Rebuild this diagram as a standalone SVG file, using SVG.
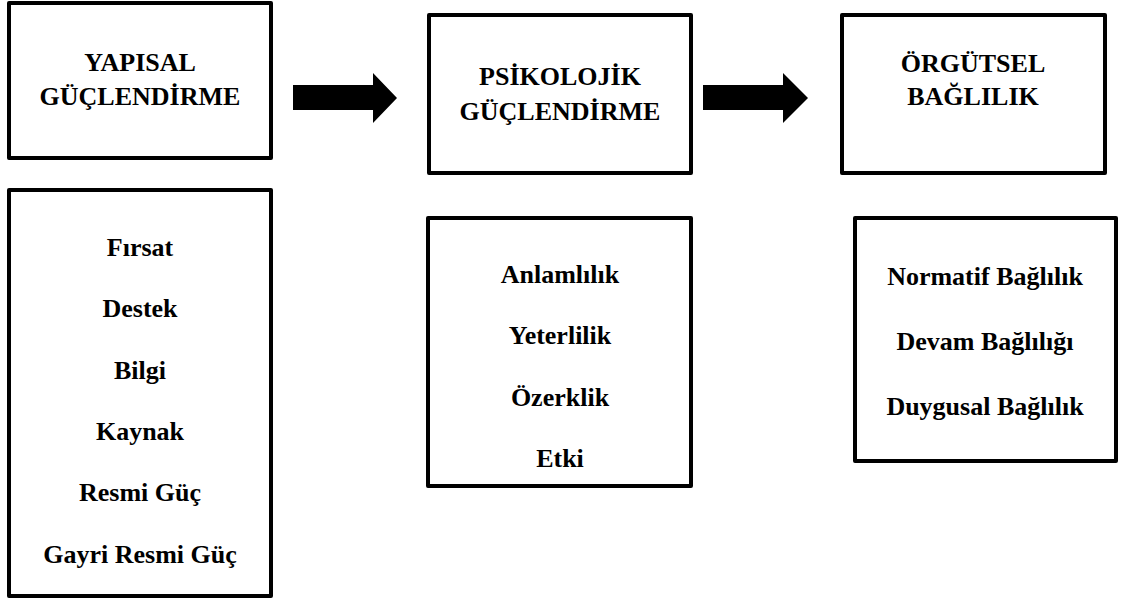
<svg xmlns="http://www.w3.org/2000/svg" width="1126" height="606" viewBox="0 0 1126 606">
<style>
.box{fill:#fff;stroke:#000;stroke-width:4;stroke-linejoin:round}
text{font-family:"Liberation Serif","Times New Roman",serif;font-weight:bold;font-size:26px;fill:#000;text-anchor:middle}
.arrow{fill:#000}
</style>
<rect width="1126" height="606" fill="#fff"/>
<g id="yapisal">
<rect class="box" x="9" y="3" width="262" height="155"/>
<text x="140" y="71">YAPISAL</text>
<text x="140" y="105">GÜÇLENDİRME</text>
</g>
<g id="psikolojik">
<rect class="box" x="429" y="15" width="262" height="158"/>
<text x="560" y="85">PSİKOLOJİK</text>
<text x="560" y="120">GÜÇLENDİRME</text>
</g>
<g id="orgutsel">
<rect class="box" x="842" y="15" width="263" height="158"/>
<text x="973" y="72">ÖRGÜTSEL</text>
<text x="973" y="105">BAĞLILIK</text>
</g>
<g id="yapisal-list">
<rect class="box" x="9" y="190" width="262" height="406"/>
<text x="140" y="256">Fırsat</text>
<text x="140" y="317">Destek</text>
<text x="140" y="379">Bilgi</text>
<text x="140" y="440">Kaynak</text>
<text x="140" y="501">Resmi Güç</text>
<text x="140" y="563">Gayri Resmi Güç</text>
</g>
<g id="psikolojik-list">
<rect class="box" x="428" y="218" width="263" height="268"/>
<text x="560" y="283">Anlamlılık</text>
<text x="560" y="344">Yeterlilik</text>
<text x="560" y="406">Özerklik</text>
<text x="560" y="467">Etki</text>
</g>
<g id="orgutsel-list">
<rect class="box" x="855" y="218" width="261" height="243"/>
<text x="985" y="285">Normatif Bağlılık</text>
<text x="985" y="350">Devam Bağlılığı</text>
<text x="985" y="415">Duygusal Bağlılık</text>
</g>
<g id="connectors">
<polygon class="arrow" points="293,85 373,85 373,73 397,98 373,123 373,110 293,110"/>
<polygon class="arrow" points="703,85 783,85 783,73 808,98 783,123 783,110 703,110"/>
</g>
</svg>
